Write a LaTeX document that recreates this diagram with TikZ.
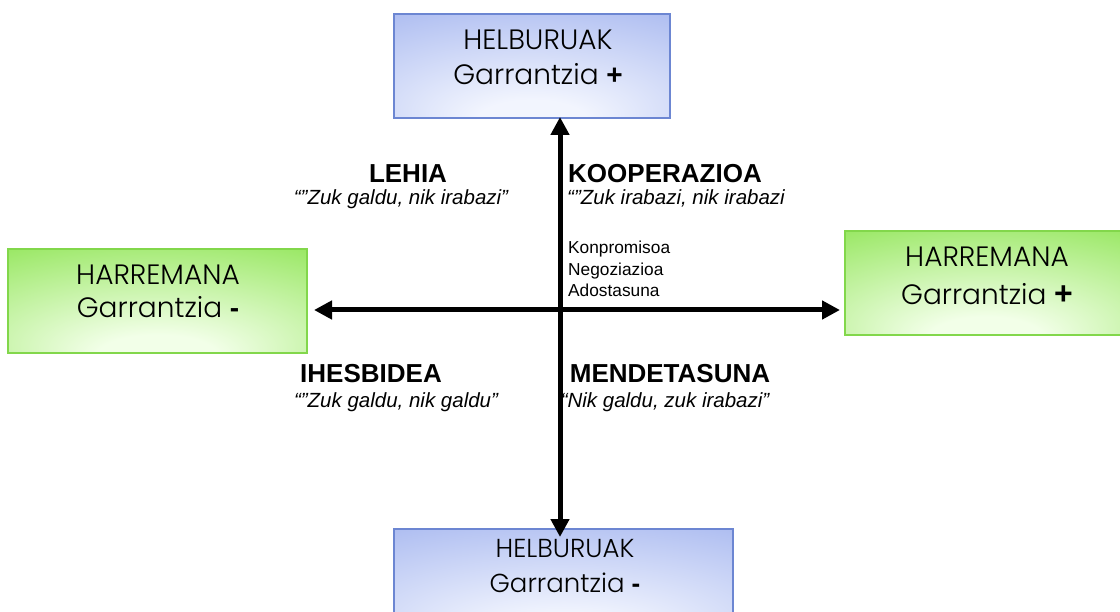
\documentclass[tikz,border=0pt]{standalone}
\usepackage{fontspec}
\setmainfont{Liberation Sans}
\IfFontExistsTF{Poppins Light}{\newfontfamily\gothic{Poppins Light}}{\newfontfamily\gothic{Poppins}}
\usetikzlibrary{arrows.meta}
\definecolor{blueIn}{RGB}{242,245,254}
\definecolor{blueOut}{RGB}{170,186,240}
\definecolor{blueLine}{RGB}{108,134,210}
\definecolor{greenIn}{RGB}{242,255,232}
\definecolor{greenOut}{RGB}{148,230,92}
\definecolor{greenLine}{RGB}{130,215,75}
\pgfdeclareradialshading{blueglow}{\pgfpoint{0bp}{-30bp}}{color(0bp)=(blueIn); color(10bp)=(blueIn); color(48bp)=(blueOut); color(80bp)=(blueOut)}
\pgfdeclareradialshading{greenglow}{\pgfpoint{0bp}{-30bp}}{color(0bp)=(greenIn); color(10bp)=(greenIn); color(48bp)=(greenOut); color(80bp)=(greenOut)}
\tikzset{
  bluebox/.style={draw=blueLine, line width=2pt, shading=blueglow, minimum height=104pt, inner sep=0pt},
  greenbox/.style={draw=greenLine, line width=2pt, shading=greenglow, minimum height=104pt, inner sep=0pt},
  boxtext/.style={font=\gothic\fontsize{28}{35}\selectfont, align=center, inner sep=0pt, anchor=base},
  title/.style={font=\bfseries\fontsize{26}{30}\selectfont, inner sep=0pt, anchor=base},
  quote/.style={font=\itshape\fontsize{20.5}{24}\selectfont, inner sep=0pt, anchor=base},
  axis/.style={line width=5pt, {Triangle[length=18pt,width=18pt]}-{Triangle[length=18pt,width=18pt]}},
}
\begin{document}
\begin{tikzpicture}[x=1pt,y=-1pt]
\useasboundingbox (0,0) rectangle (1120,612);
% boxes
\node[bluebox, minimum width=276pt] (top) at (532,66) {};
\node[bluebox, minimum width=339pt] (bot) at (563.5,581) {};
\node[greenbox, minimum width=299pt] (left) at (157.5,301) {};
\node[greenbox, minimum width=282pt] (right) at (986,283) {};
% box texts (anchor base = baseline of last line)
\node[boxtext] (toptext) at (538,85) {HELBURUAK\\Garrantzia {\normalfont\bfseries +}};
\node[boxtext, font=\gothic\fontsize{26}{35}\selectfont] (bottext) at (565,592) {HELBURUAK\\Garrantzia {\normalfont\bfseries -}};
\node[boxtext, font=\gothic\fontsize{28}{33}\selectfont] (lefttext) at (158,318) {HARREMANA\\Garrantzia {\normalfont\bfseries -}};
\node[boxtext, font=\gothic\fontsize{28}{38}\selectfont] (righttext) at (987,305) {HARREMANA\\Garrantzia {\normalfont\bfseries\fontsize{32}{38}\selectfont +}};
% axes
\coordinate (c) at (560,310);
\draw[axis, shorten <=-2pt, shorten >=-9pt] (top.south -| c) -- (bot.north -| c);
\draw[axis, shorten <=6pt, shorten >=4pt] (left.east |- c) -- (right.west |- c);
% quadrant labels
\node[title] (lehia) at (408,183) {LEHIA};
\node[quote] (lehiaq) at (401,205) {“”Zuk galdu, nik irabazi”};
\node[title] (koop) at (665,183) {KOOPERAZIOA};
\node[quote] (koopq) at (676,205) {“”Zuk irabazi, nik irabazi};
\node[font=\fontsize{17.3}{21.5}\selectfont, align=left, anchor=base west, inner sep=0pt] (list) at (568,297) {Konpromisoa\\Negoziazioa\\Adostasuna};
\node[title] (ihes) at (371,383) {IHESBIDEA};
\node[quote] (ihesq) at (396,408) {“”Zuk galdu, nik galdu”};
\node[title] (mend) at (670,383) {MENDETASUNA};
\node[quote] (mendq) at (665,408) {“Nik galdu, zuk irabazi”};
\end{tikzpicture}
\end{document}
